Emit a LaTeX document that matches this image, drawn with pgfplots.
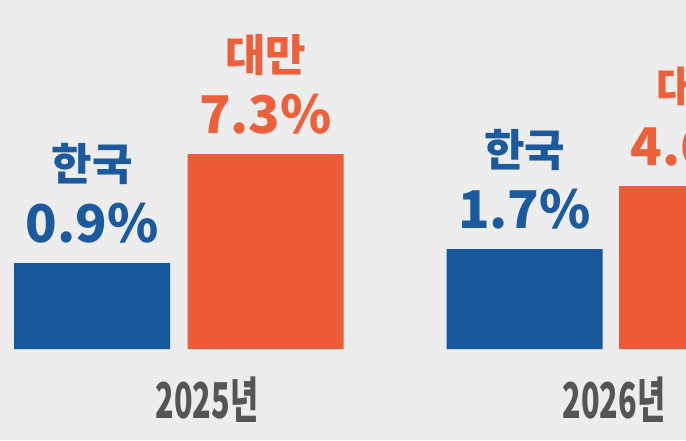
\documentclass[border=0pt]{standalone}
\usepackage{pgfplots}
\pgfplotsset{compat=1.18}
\usepackage{fontspec}
\usepackage{graphicx}
\newfontfamily\kr{Noto Sans CJK KR}
\definecolor{bg}{HTML}{EDEDED}
\definecolor{krblue}{HTML}{17579C}
\definecolor{krbluetext}{HTML}{1B5A9C}
\definecolor{twor}{HTML}{EE5B37}
\definecolor{tworText}{HTML}{EC603C}
\definecolor{yeargray}{HTML}{555555}
\begin{document}
\begin{tikzpicture}
\path[use as bounding box, fill=bg] (0,-68.25pt) rectangle (514.5pt,261.75pt);
\clip (0,-68.25pt) rectangle (514.5pt,261.75pt);
\begin{axis}[
  at={(0,0)}, anchor=south west,
  scale only axis, width=514.5pt, height=261.75pt,
  xmin=0, xmax=686, ymin=0, ymax=349,
  clip=false,
  axis line style={draw=none},
  ytick=\empty,
  xtick={207,614},
  xticklabels={{\scalebox{0.62}[1]{2025년}},{\scalebox{0.62}[1]{2026년}}},
  major tick length=0pt,
  x tick label style={font=\kr\bfseries\fontsize{37}{40}\selectfont, text=yeargray, anchor=center, yshift=-38pt},
  nodes near coords style={font=\kr\bfseries\fontsize{39}{46}\selectfont, align=center, inner sep=0pt, anchor=south, yshift=15pt},
]
\addplot[ybar, bar width=117pt, bar shift=0pt, fill=krblue, draw=none,
  nodes near coords, point meta=explicit symbolic,
  every node near coord/.append style={text=krbluetext}]
  coordinates {(92,86) [{\fontsize{33}{46}\selectfont 한국}\\0.9\%] (524.5,100) [{\fontsize{33}{46}\selectfont 한국}\\1.7\%]};
\addplot[ybar, bar width=117pt, bar shift=0pt, fill=twor, draw=none,
  nodes near coords, point meta=explicit symbolic,
  every node near coord/.append style={text=tworText}]
  coordinates {(265.5,195) [{\fontsize{33}{46}\selectfont 대만}\\7.3\%] (697,163) [{\fontsize{33}{46}\selectfont 대만}\\4.6\%]};
\end{axis}
\end{tikzpicture}
\end{document}
